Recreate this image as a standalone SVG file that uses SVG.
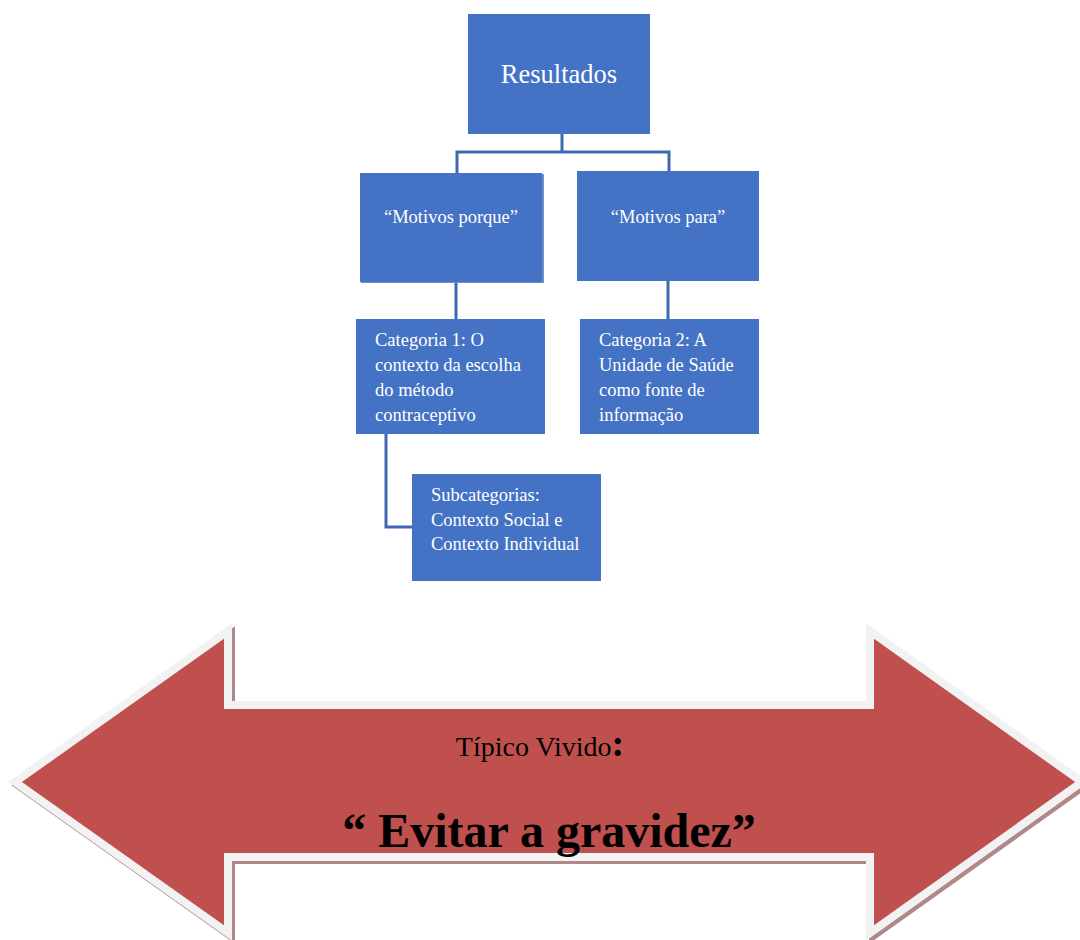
<svg xmlns="http://www.w3.org/2000/svg" width="1080" height="940" viewBox="0 0 1080 940">
<style>
.box{fill:#4472c4}
.t{font-family:"Liberation Serif","Times New Roman",serif;fill:#ffffff}
.c{fill:none;stroke:#4068b0;stroke-width:3}
</style>
<rect width="1080" height="940" fill="#ffffff"/>
<g id="connectors">
<path class="c" d="M562,134 V152 M457,152 H669 M457,150.5 V173 M669,150.5 V171"/>
<path class="c" d="M456,282 V319 M668,281 V319"/>
<path class="c" d="M386,434 V527 H412"/>
</g>
<g id="resultados">
<rect class="box" x="468" y="14" width="182" height="120"/>
<text class="t" x="559" y="83" font-size="26.5" text-anchor="middle">Resultados</text>
</g>
<g id="motivos-porque">
<rect x="361" y="174" width="183" height="109" fill="#6f8fc9"/>
<rect class="box" x="360" y="173" width="182" height="109"/>
<text class="t" x="451" y="223" font-size="18.5" text-anchor="middle">“Motivos porque”</text>
</g>
<g id="motivos-para">
<rect class="box" x="577" y="171" width="182" height="110"/>
<text class="t" x="668" y="223" font-size="18.5" text-anchor="middle">“Motivos para”</text>
</g>
<g id="categoria1">
<rect class="box" x="356" y="319" width="189" height="115"/>
<text class="t" font-size="18.5"><tspan x="375" y="346">Categoria 1: O</tspan><tspan x="375" y="371">contexto da escolha</tspan><tspan x="375" y="396">do método</tspan><tspan x="375" y="421">contraceptivo</tspan></text>
</g>
<g id="categoria2">
<rect class="box" x="580" y="319" width="179" height="115"/>
<text class="t" font-size="18.5"><tspan x="599" y="346">Categoria 2: A</tspan><tspan x="599" y="371">Unidade de Saúde</tspan><tspan x="599" y="396">como fonte de</tspan><tspan x="599" y="421">informação</tspan></text>
</g>
<g id="subcategorias">
<rect class="box" x="412" y="474" width="189" height="107"/>
<text class="t" font-size="18.5"><tspan x="431" y="501">Subcategorias:</tspan><tspan x="431" y="525.5">Contexto Social e</tspan><tspan x="431" y="550">Contexto Individual</tspan></text>
</g>
<g id="arrow">
<polygon points="18,785 231,634 231,708 873,708 873,634 1085,785 873,936 873,860 231,860 231,936" fill="#b08888" stroke="#b08888" stroke-width="8" stroke-linejoin="miter"/>
<polygon points="15,782 228,631 228,705 870,705 870,631 1082,782 870,933 870,857 228,857 228,933" fill="#c0504d" stroke="#f2f2f2" stroke-width="8" stroke-linejoin="miter"/>
<text x="540" y="756" font-family="Liberation Serif,Times New Roman,serif" font-size="28" text-anchor="middle" fill="#000000">Típico Vivido<tspan font-weight="bold" font-size="38">:</tspan></text>
<text x="549" y="847" font-family="Liberation Serif,Times New Roman,serif" font-size="48" font-weight="bold" text-anchor="middle" fill="#000000">“ Evitar a gravidez”</text>
</g>
</svg>
